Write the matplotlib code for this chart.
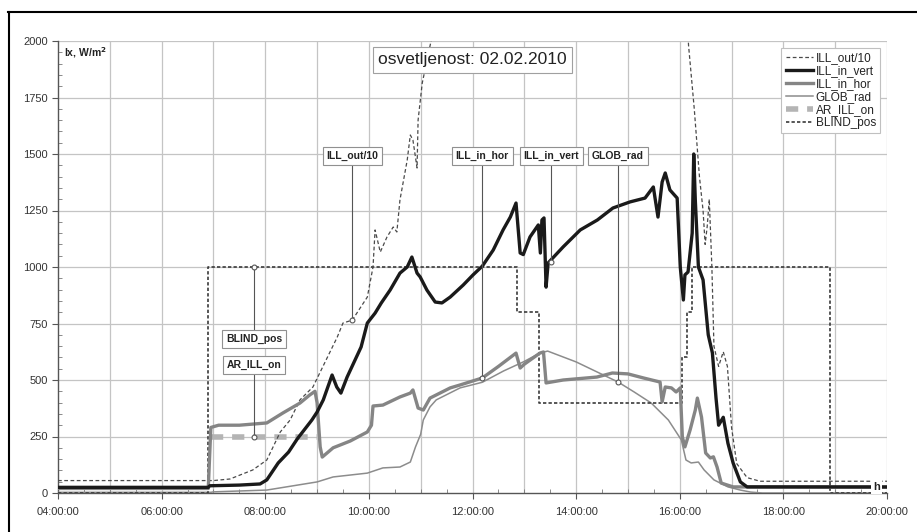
import numpy as np
import matplotlib
matplotlib.use("Agg")
import matplotlib.pyplot as plt
from matplotlib.ticker import MultipleLocator, FuncFormatter
from matplotlib.lines import Line2D

plt.rcParams['font.family'] = ['Liberation Sans', 'DejaVu Sans']

# time in hours of the day, values in lx (or W/m2)
t_out = [4.0, 7.0, 7.32, 7.76, 8.03, 8.29, 8.48, 8.67, 8.92, 9.39, 9.5, 9.68, 9.87, 9.97,
         10.08, 10.12, 10.22, 10.35, 10.47, 10.54, 10.6, 10.74, 10.8, 10.85, 10.93, 10.95,
         11.03, 11.2, 11.5, 13.0, 15.0, 16.05, 16.17, 16.28, 16.38, 16.45, 16.49, 16.53,
         16.57, 16.62, 16.66, 16.75, 16.84, 16.92, 17.0, 17.1, 17.3, 17.55, 20.0]
ill_out = [55, 55, 62, 102, 146, 270, 323, 412, 469, 690, 752, 765, 832, 867,
           1000, 1164, 1066, 1133, 1177, 1155, 1297, 1473, 1584, 1562, 1438, 1650,
           1814, 2000, 2600, 3300, 3000, 2500, 1980, 1700, 1400, 1250, 1100, 1180,
           1300, 1000, 650, 560, 625, 560, 290, 130, 68, 52, 52]

t_vert = [4.0, 6.9, 6.93, 7.5, 7.9, 8.03, 8.25, 8.45, 8.62, 8.9, 9.0, 9.12, 9.29, 9.38,
          9.46, 9.58, 9.85, 9.97, 10.12, 10.24, 10.41, 10.6, 10.74, 10.83, 10.93, 10.99,
          11.12, 11.28, 11.41, 11.57, 11.82, 12.01, 12.19, 12.4, 12.59, 12.73, 12.84,
          12.92, 12.98, 13.11, 13.27, 13.31, 13.34, 13.38, 13.42, 13.46, 13.75, 14.08,
          14.41, 14.71, 15.04, 15.33, 15.49, 15.58, 15.66, 15.72, 15.81, 15.95, 16.01,
          16.07, 16.1, 16.16, 16.24, 16.27, 16.3, 16.36, 16.45, 16.55, 16.63, 16.7,
          16.75, 16.84, 16.93, 17.03, 17.17, 17.3, 20.0]
ill_vert = [25, 25, 32, 35, 40, 58, 133, 181, 240, 323, 358, 412, 522, 469,
            442, 513, 646, 752, 796, 841, 898, 973, 1000, 1044, 973, 956,
            898, 845, 841, 867, 920, 965, 1004, 1075, 1164, 1221, 1283,
            1062, 1055, 1133, 1186, 1062, 1208, 1217, 911, 1018, 1089, 1164,
            1208, 1261, 1288, 1305, 1354, 1221, 1376, 1416, 1341, 1305, 1000,
            854, 965, 978, 1150, 1500, 1297, 1000, 943, 700, 620, 420,
            300, 335, 220, 133, 49, 27, 27]

t_hor = [4.0, 6.9, 6.95, 7.1, 7.5, 8.03, 8.34, 8.67, 8.86, 8.96, 9.0, 9.06, 9.1, 9.31,
         9.64, 9.97, 10.05, 10.08, 10.27, 10.6, 10.8, 10.85, 10.95, 11.05, 11.18, 11.57,
         11.76, 12.19, 12.5, 12.84, 12.92, 13.0, 13.3, 13.37, 13.42, 13.75, 14.4, 14.7,
         15.0, 15.3, 15.62, 15.66, 15.72, 15.84, 15.93, 16.01, 16.05, 16.1, 16.2, 16.3,
         16.34, 16.42, 16.5, 16.59, 16.65, 16.72, 16.8, 17.03, 20.0]
ill_hor = [20, 20, 290, 300, 300, 310, 354, 398, 434, 450, 400, 204, 159, 200,
           230, 270, 300, 385, 389, 425, 442, 456, 376, 367, 420, 465,
           478, 509, 560, 619, 553, 570, 619, 624, 487, 500, 513, 531,
           527, 509, 491, 403, 469, 465, 447, 465, 248, 204, 279, 367,
           420, 336, 177, 155, 160, 115, 44, 27, 25]

t_glob = [4.0, 6.95, 7.0, 8.03, 9.0, 9.31, 9.97, 10.27, 10.6, 10.8, 10.9, 11.0, 11.05,
          11.18, 11.3, 11.76, 12.19, 12.6, 12.98, 13.3, 13.45, 14.0, 14.81, 15.12, 15.45,
          15.78, 16.03, 16.12, 16.22, 16.36, 16.47, 16.66, 16.93, 17.17, 17.37, 17.6, 20.0]
glob_rad = [3, 3, 5, 13, 49, 71, 88, 111, 115, 137, 204, 260, 323,
            381, 412, 465, 490, 540, 580, 619, 628, 580, 491, 447, 398,
            323, 235, 146, 133, 137, 102, 58, 27, 13, 4, 0, 0]

t_ar = [6.95, 9.0]
ar_ill = [250, 250]

t_blind = [4.0, 6.9, 12.86, 13.29, 16.05, 16.14, 16.24, 18.9, 20.0]
blind_pos = [0, 1000, 800, 400, 600, 800, 1000, 0, 0]

# callout labels: name, hour, box level, point level
callouts = [("ILL_out/10", 9.68, 1491, 765),
            ("ILL_in_hor", 12.19, 1491, 509),
            ("ILL_in_vert", 13.52, 1491, 1022),
            ("GLOB_rad", 14.81, 1491, 491),
            ("BLIND_pos", 7.78, 681, 1000),
            ("AR_ILL_on", 7.78, 566, 250)]

fig = plt.figure(figsize=(9.17, 5.32), dpi=100)
ax = fig.add_axes([58 / 917, 1 - 493 / 532, 829 / 917, 452 / 532])

ax.plot(t_glob, glob_rad, color='#8c8c8c', lw=1.1, label='GLOB_rad', zorder=3)
ax.plot(t_hor, ill_hor, color='#858585', lw=2.4, label='ILL_in_hor', zorder=4)
ax.plot(t_ar, ar_ill, color='#b4b4b4', lw=4, dashes=(2.2, 1.6), label='AR_ILL_on', zorder=3)
ax.plot(t_blind, blind_pos, color='#3a3a3a', lw=1.2, dashes=(2, 1.3), drawstyle='steps-post',
        label='BLIND_pos', zorder=3)
ax.plot(t_out, ill_out, color='#4a4a4a', lw=0.9, dashes=(3, 2), label='ILL_out/10', zorder=3)
ax.plot(t_vert, ill_vert, color='#1a1a1a', lw=2.4, label='ILL_in_vert', zorder=5)

ax.set_xlim(4, 20)
ax.set_ylim(0, 2000)
ax.xaxis.set_major_locator(MultipleLocator(2))
ax.xaxis.set_minor_locator(MultipleLocator(0.5))
ax.yaxis.set_major_locator(MultipleLocator(250))
ax.yaxis.set_minor_locator(MultipleLocator(50))
ax.xaxis.set_major_formatter(FuncFormatter(lambda v, p: "%02d:00:00" % int(round(v))))

# hourly vertical grid
for h in range(5, 21):
    ax.axvline(h, color='#c4c4c4', lw=0.9, zorder=1)
for v in range(250, 2001, 250):
    ax.axhline(v, color='#c4c4c4', lw=0.9, zorder=1)

for s in ['top', 'right']:
    ax.spines[s].set_visible(False)
for s in ['left', 'bottom']:
    ax.spines[s].set_color('#555555')
    ax.spines[s].set_linewidth(1.0)
ax.tick_params(which='major', direction='out', length=4, color='#555555',
               labelsize=8, labelcolor='#333333')
ax.tick_params(axis='x', which='major', pad=6)
ax.tick_params(which='minor', direction='in', length=3, color='#777777')

ax.text(4.12, 1950, "lx, W/m$^\\mathbf{2}$", fontsize=7.5, fontweight='bold',
        va='center', ha='left', color='#222222')
ax.text(19.73, 28, "h", fontsize=8, fontweight='bold', ha='left', va='center',
        color='#222222', bbox=dict(facecolor='white', edgecolor='none', pad=1.5), zorder=8)

ax.text(12.0, 1916, "osvetljenost: 02.02.2010", fontsize=12.5, ha='center', va='center',
        color='#222222', zorder=8,
        bbox=dict(facecolor='white', edgecolor='#a0a0a0', lw=0.8, boxstyle='square,pad=0.3'))

box = dict(facecolor='white', edgecolor='#909090', lw=0.8, boxstyle='square,pad=0.35')
for name, hx, by, py in callouts:
    ax.plot([hx, hx], [by, py], color='#555555', lw=0.8, zorder=6)
    ax.plot(hx, py, 'o', ms=3.5, mfc='white', mec='#555555', mew=0.8, zorder=7)
    ax.text(hx, by, name, fontsize=7.5, fontweight='bold', ha='center', va='center',
            color='#222222', bbox=box, zorder=8)

order = ['ILL_out/10', 'ILL_in_vert', 'ILL_in_hor', 'GLOB_rad', 'AR_ILL_on', 'BLIND_pos']
handles, labels = ax.get_legend_handles_labels()
hmap = dict(zip(labels, handles))
leg = ax.legend([hmap[k] for k in order], order, loc='upper right',
                bbox_to_anchor=(880 / 917, 1 - 48 / 532), bbox_transform=fig.transFigure,
                fontsize=8.5, frameon=True, fancybox=False, framealpha=1,
                edgecolor='#c0c0c0', handlelength=2.3, handletextpad=0.25,
                labelspacing=0.08, borderpad=0.35, borderaxespad=0)
leg.get_frame().set_linewidth(0.8)
leg.set_zorder(9)
for t in leg.get_texts():
    t.set_color('#222222')

# outer frame lines
fig.add_artist(Line2D([8.5 / 917, 8.5 / 917], [0, 1 - 12 / 532], color='black', lw=1.5,
                      transform=fig.transFigure))
fig.add_artist(Line2D([8 / 917, 1], [1 - 12 / 532, 1 - 12 / 532], color='black', lw=1.5,
                      transform=fig.transFigure))

fig.savefig("out.png", dpi=100)
